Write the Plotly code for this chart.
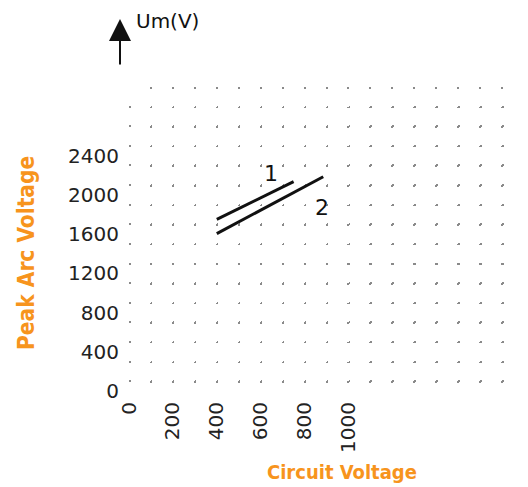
import plotly.graph_objects as go

# ---- data ----
line1_x = [400, 750]
line1_y = [1750, 2135]
line2_x = [400, 885]
line2_y = [1605, 2185]
series_labels = ["1", "2"]
label_x = [645, 880]
label_y = [2220, 1870]

x_tick_vals = [0, 200, 400, 600, 800, 1000]
x_tick_text = ["0", "200", "400", "600", "800", "1000"]
y_tick_vals = [0, 400, 800, 1200, 1600, 2000, 2400]
y_tick_text = ["0", "400", "800", "1200", "1600", "2000", "2400"]

x_grid_vals = list(range(0, 1900, 100))
y_grid_vals = list(range(100, 3200, 200))

X_MAX = 1818
Y_MAX = 3100

OFF = 8  # page body margin
W, H = 528 - OFF, 487 - OFF
ML, MR, MT, MB = 129 - OFF, 0, 87 - OFF, 96
pw = W - ML - MR
ph = H - MT - MB
x_period = pw / X_MAX * 100
y_period = ph / Y_MAX * 200


def px(xp):
    return (xp - OFF - ML) / pw


def py(yp):
    return (H - MB - (yp - OFF)) / ph


orange = "#F7941D"
tick_font = dict(family="DejaVu Sans, sans-serif", size=20, color="#222")
title_family = "DejaVu Sans Condensed, Liberation Sans Narrow, sans-serif"

fig = go.Figure()
for xs, ys in [(line1_x, line1_y), (line2_x, line2_y)]:
    fig.add_trace(go.Scatter(x=xs, y=ys, mode="lines",
                             line=dict(color="#111", width=3),
                             showlegend=False, hoverinfo="skip"))

dot_h = f"1.5px,{x_period-1.5:.2f}px"
dot_v = f"1.5px,{y_period-1.5:.2f}px"
gcol = "#8a8a8a"

fig.update_xaxes(range=[0, X_MAX], tickmode="array", tickvals=x_tick_vals,
                 ticktext=x_tick_text, tickangle=-90, tickfont=tick_font,
                 ticks="outside", ticklen=2, tickcolor="rgba(0,0,0,0)",
                 showline=False, zeroline=False,
                 showgrid=True, gridcolor=gcol, gridwidth=1.5, griddash=dot_v,
                 minor=dict(tickmode="array", tickvals=x_grid_vals, showgrid=True,
                            gridcolor=gcol, gridwidth=1.5, griddash=dot_v,
                            ticks=""))
fig.update_yaxes(range=[0, Y_MAX], tickmode="array", tickvals=y_tick_vals,
                 ticktext=y_tick_text, tickfont=tick_font,
                 ticks="outside", ticklen=5, tickcolor="rgba(0,0,0,0)",
                 showline=False, zeroline=False, showgrid=False,
                 minor=dict(tickmode="array", tickvals=y_grid_vals, showgrid=True,
                            gridcolor=gcol, gridwidth=1.5, griddash=dot_h,
                            ticks=""))

annotations = []
for t, lx, ly in zip(series_labels, label_x, label_y):
    annotations.append(dict(x=lx, y=ly, xref="x", yref="y", text=t, showarrow=False,
                            font=dict(family="DejaVu Sans, sans-serif", size=22, color="#111")))
# axis titles
annotations.append(dict(x=px(26), y=py(253), xref="paper", yref="paper",
                        xanchor="center", yanchor="middle",
                        text="<b>Peak Arc Voltage</b>", textangle=-90, showarrow=False,
                        font=dict(family=title_family, size=22.5, color=orange)))
annotations.append(dict(x=px(342), y=py(472), xref="paper", yref="paper",
                        xanchor="center", yanchor="middle",
                        text="<b>Circuit Voltage</b>", showarrow=False,
                        font=dict(family=title_family, size=20, color=orange)))
# Um(V) arrow
annotations.append(dict(x=px(120), y=py(19), xref="paper", yref="paper",
                        ax=0, ay=47, text="", showarrow=True, arrowhead=2, arrowsize=2.2,
                        arrowwidth=2, arrowcolor="#111"))
annotations.append(dict(x=px(134), y=py(21), xref="paper", yref="paper",
                        xanchor="left", yanchor="middle",
                        text="Um(V)", showarrow=False,
                        font=dict(family="DejaVu Sans, sans-serif", size=20, color="#111")))

fig.update_layout(width=W, height=H, margin=dict(l=ML, r=MR, t=MT, b=MB),
                  paper_bgcolor="white", plot_bgcolor="white",
                  annotations=annotations, showlegend=False)

fig.write_html("out.html")
